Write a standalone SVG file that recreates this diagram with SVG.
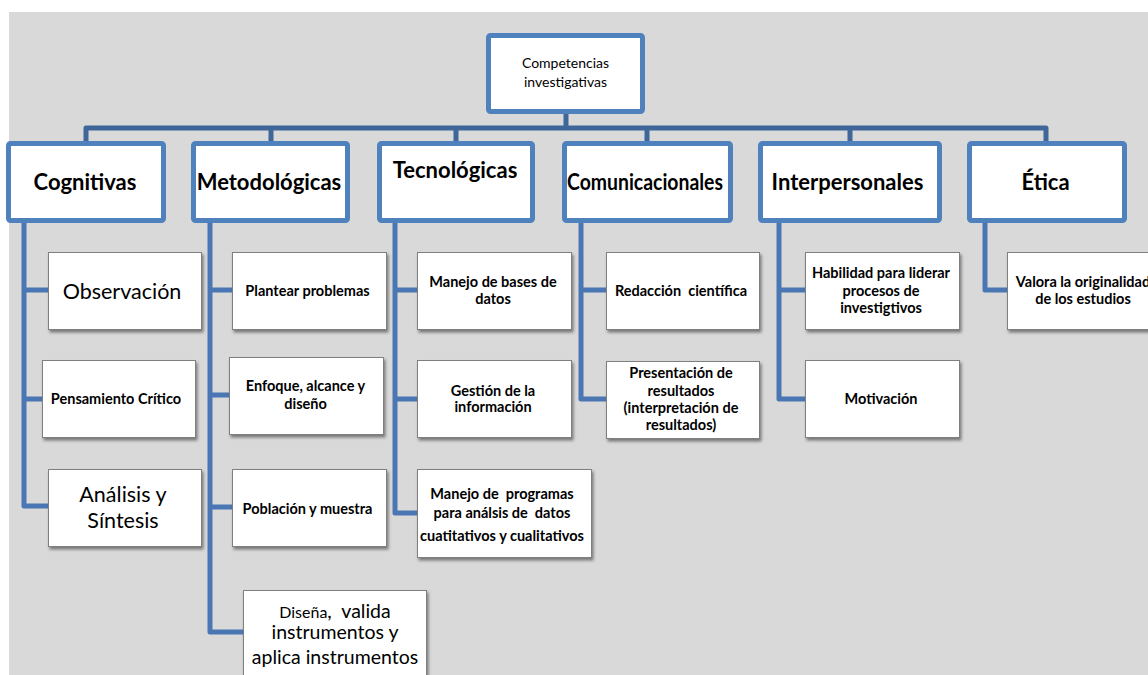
<svg xmlns="http://www.w3.org/2000/svg" width="1148" height="675" viewBox="0 0 1148 675">
<defs>
<filter id="sh" x="-10%" y="-10%" width="130%" height="140%">
<feDropShadow dx="1.5" dy="2.5" stdDeviation="1.5" flood-color="#000" flood-opacity="0.45"/>
</filter>
<style>
.bg{fill:#d9d9d9}
.l1{fill:#fff;stroke:#4f81bd;stroke-width:5}
.l2{fill:#fff;stroke:#7f7f7f;stroke-width:1;filter:url(#sh)}
.top{fill:none;stroke:#3f6699;stroke-width:5;stroke-linejoin:round}
.sub{fill:none;stroke:#4a77b3;stroke-width:5;stroke-linejoin:round}
text{font-family:Lato,"Liberation Sans",sans-serif;fill:#000;text-anchor:middle}
.pre{white-space:pre}
.h1{font-size:22px;font-weight:bold}
.h0{font-size:14px}
.b{font-size:14.5px;font-weight:bold}
.big{font-size:21.5px}
.mid{font-size:19.5px}
</style>
</defs>
<rect class="bg" x="9" y="12" width="1139" height="663"/>
<g id="connectors">
<path class="top" d="M566,114 V128"/>
<path class="top" d="M86,141 V128 H1046 V141"/>
<path class="top" d="M271,128 V141 M456,128 V141 M647,128 V141 M850,128 V141"/>
<path class="sub" d="M24,223 V506 H48 M24,290 H48 M24,399 H42"/>
<path class="sub" d="M210,223 V632 H243 M210,290 H232 M210,395 H229 M210,507 H232"/>
<path class="sub" d="M395,223 V513 H417 M395,290 H417 M395,399 H417"/>
<path class="sub" d="M581,223 V399 H606 M581,290 H606"/>
<path class="sub" d="M779,223 V399 H805 M779,290 H805"/>
<path class="sub" d="M985,223 V290 H1007"/>
</g>
<g id="n-root"><rect class="l1" x="488.5" y="35.5" width="154" height="76" rx="2"/><text class="h0" x="565.5" y="68">Competencias</text><text class="h0" x="565.5" y="87">investigativas</text></g>
<g id="n-cognitivas"><rect class="l1" x="8.5" y="143.5" width="155" height="77" rx="2"/><text class="h1" x="85" y="190" font-size="23.5">Cognitivas</text></g>
<g id="n-metodologicas"><rect class="l1" x="193.5" y="143.5" width="154" height="77" rx="2"/><text class="h1" x="269" y="190">Metodológicas</text></g>
<g id="n-tecnologicas"><rect class="l1" x="379.5" y="143.5" width="153" height="77" rx="2"/><text class="h1" x="455" y="178">Tecnológicas</text></g>
<g id="n-comunicacionales"><rect class="l1" x="564.5" y="143.5" width="166" height="77" rx="2"/><text class="h1" x="645" y="190" textLength="156" lengthAdjust="spacingAndGlyphs">Comunicacionales</text></g>
<g id="n-interpersonales"><rect class="l1" x="760.5" y="143.5" width="179" height="77" rx="2"/><text class="h1" x="847.5" y="190">Interpersonales</text></g>
<g id="n-etica"><rect class="l1" x="969.5" y="143.5" width="155" height="77" rx="2"/><text class="h1" x="1045.5" y="190">Ética</text></g>

<g id="n-observacion"><rect class="l2" x="48.5" y="252.5" width="153" height="77"/><text class="big" x="122" y="299">Observación</text></g>
<g id="n-pensamiento"><rect class="l2" x="42.5" y="360.5" width="153" height="77"/><text class="b" x="116" y="404">Pensamiento Crítico</text></g>
<g id="n-analisis"><rect class="l2" x="48.5" y="469.5" width="153" height="77"/><text class="big" x="123" y="502">Análisis y</text><text class="big" x="123" y="528">Síntesis</text></g>

<g id="n-plantear"><rect class="l2" x="232.5" y="252.5" width="154" height="77"/><text class="b" x="307.5" y="296">Plantear problemas</text></g>
<g id="n-enfoque"><rect class="l2" x="229.5" y="357.5" width="154" height="77"/><text class="b" x="305.5" y="391">Enfoque, alcance y</text><text class="b" x="305.5" y="409">diseño</text></g>
<g id="n-poblacion"><rect class="l2" x="232.5" y="469.5" width="154" height="77"/><text class="b" x="307.5" y="514">Población y muestra</text></g>
<g id="n-disena"><rect class="l2" x="243.5" y="590.5" width="183" height="95"/><text class="mid pre" x="335" y="618"><tspan font-size="16">Diseña</tspan>,  valida</text><text class="mid" x="335" y="639">instrumentos y</text><text class="mid" x="335" y="664">aplica instrumentos</text></g>

<g id="n-bases"><rect class="l2" x="417.5" y="252.5" width="154" height="77"/><text class="b" x="493" y="287">Manejo de bases de</text><text class="b" x="493" y="304">datos</text></g>
<g id="n-gestion"><rect class="l2" x="417.5" y="360.5" width="154" height="77"/><text class="b" x="493" y="396">Gestión de la</text><text class="b" x="493" y="412">información</text></g>
<g id="n-programas"><rect class="l2" x="417.5" y="469.5" width="174" height="88"/><text class="b pre" x="502" y="499">Manejo de  programas</text><text class="b pre" x="502" y="518">para análsis de  datos</text><text class="b" x="502" y="541">cuatitativos y cualitativos</text></g>

<g id="n-redaccion"><rect class="l2" x="606.5" y="252.5" width="153" height="77"/><text class="b pre" x="681" y="296">Redacción  científica</text></g>
<g id="n-presentacion"><rect class="l2" x="606.5" y="361.5" width="153" height="77"/><text class="b" x="681" y="378">Presentación de</text><text class="b" x="681" y="396">resultados</text><text class="b" x="681" y="413">(interpretación de</text><text class="b" x="681" y="430">resultados)</text></g>

<g id="n-habilidad"><rect class="l2" x="805.5" y="252.5" width="154" height="77"/><text class="b" x="881" y="278">Habilidad para liderar</text><text class="b" x="881" y="296">procesos de</text><text class="b" x="881" y="313">investigtivos</text></g>
<g id="n-motivacion"><rect class="l2" x="805.5" y="360.5" width="154" height="77"/><text class="b" x="881" y="404">Motivación</text></g>

<g id="n-valora"><rect class="l2" x="1007.5" y="252.5" width="154" height="77"/><text class="b" x="1083" y="287">Valora la originalidad</text><text class="b" x="1083" y="304">de los estudios</text></g>
</svg>
